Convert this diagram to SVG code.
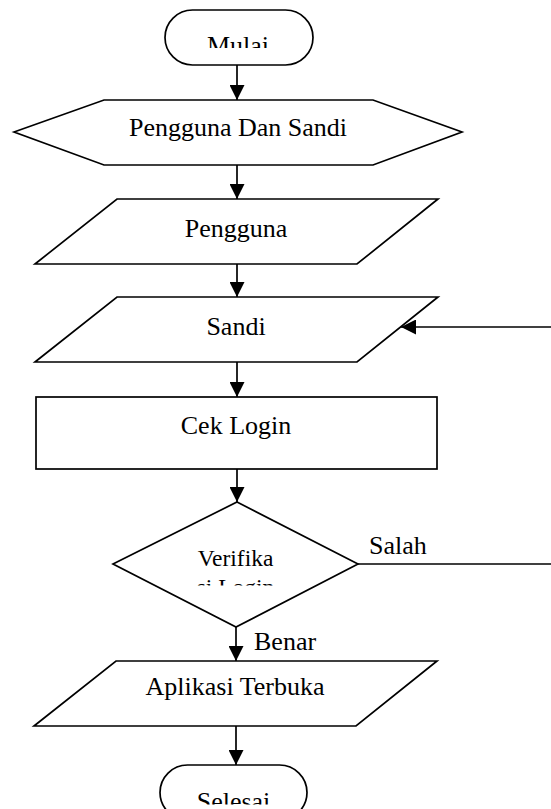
<svg xmlns="http://www.w3.org/2000/svg" width="551" height="809" viewBox="0 0 551 809">
  <style>
    .shape { fill: #ffffff; stroke: #000000; stroke-width: 1.7; stroke-linejoin: miter; }
    .link { fill: none; stroke: #000000; stroke-width: 1.7; }
    .lbl { font-family: "Liberation Serif", "Times New Roman", serif; font-size: 26px; fill: #000000; }
    .mid { text-anchor: middle; }
  </style>
  <defs>
    <marker id="arrow" markerUnits="userSpaceOnUse" markerWidth="15" markerHeight="15" refX="15" refY="7.5" orient="auto">
      <path d="M0,0 L15,7.5 L0,15 z" fill="#000000"/>
    </marker>
    <!-- text boxes narrower than their text: lower lines are cut off -->
    <clipPath id="clipStart"><rect x="165" y="10" width="148" height="38"/></clipPath>
    <clipPath id="clipEnd"><rect x="160" y="765" width="147" height="39.5"/></clipPath>
    <clipPath id="clipVerify"><rect x="150" y="530" width="180" height="55.5"/></clipPath>
  </defs>

  <rect width="551" height="809" fill="#ffffff"/>

  <!-- connectors -->
  <g id="connectors">
    <line class="link" x1="237" y1="65" x2="237" y2="100" marker-end="url(#arrow)"/>
    <line class="link" x1="237" y1="165" x2="237" y2="199" marker-end="url(#arrow)"/>
    <line class="link" x1="237" y1="264" x2="237" y2="297" marker-end="url(#arrow)"/>
    <line class="link" x1="237" y1="362" x2="237" y2="397" marker-end="url(#arrow)"/>
    <line class="link" x1="237" y1="469" x2="237" y2="502" marker-end="url(#arrow)"/>
    <line class="link" x1="236" y1="627" x2="236" y2="661" marker-end="url(#arrow)"/>
    <line class="link" x1="236" y1="726" x2="236" y2="765" marker-end="url(#arrow)"/>
    <!-- "Salah" branch leaves the page to the right and returns to Sandi -->
    <line class="link" x1="358" y1="564" x2="551" y2="564"/>
    <line class="link" x1="551" y1="327" x2="401" y2="327" marker-end="url(#arrow)"/>
    <text class="lbl" x="369" y="554">Salah</text>
    <text class="lbl" x="254" y="650">Benar</text>
  </g>

  <g id="start">
    <rect class="shape" x="165" y="10" width="148" height="55" rx="27.5" ry="27.5"/>
    <text class="lbl mid" x="238" y="54" clip-path="url(#clipStart)">Mulai</text>
  </g>

  <g id="user-and-password">
    <polygon class="shape" points="14,132 104,100 373,100 462,132 373,165 104,165"/>
    <text class="lbl mid" x="238" y="135.5">Pengguna Dan Sandi</text>
  </g>

  <g id="user">
    <polygon class="shape" points="117,199 438,199 357,264 35,264"/>
    <text class="lbl mid" x="236" y="237">Pengguna</text>
  </g>

  <g id="password">
    <polygon class="shape" points="117,297 438,297 357,362 35,362"/>
    <text class="lbl mid" x="236" y="335">Sandi</text>
  </g>

  <g id="check-login">
    <rect class="shape" x="36" y="397" width="401" height="72"/>
    <text class="lbl mid" x="236" y="434">Cek Login</text>
  </g>

  <g id="verify-login">
    <polygon class="shape" points="237,502 358,564 236,627 113,564"/>
    <g clip-path="url(#clipVerify)">
      <text class="lbl mid" x="235.5" y="566" style="font-size:23.5px">Verifika</text>
      <text class="lbl mid" x="235.5" y="594.5" style="font-size:23.5px">si Login</text>
    </g>
  </g>

  <g id="app-open">
    <polygon class="shape" points="116,661 437,661 356,726 34,726"/>
    <text class="lbl mid" x="235" y="695">Aplikasi Terbuka</text>
  </g>

  <g id="finish">
    <rect class="shape" x="160" y="765" width="147" height="55" rx="27.5" ry="27.5"/>
    <text class="lbl mid" x="233.5" y="809.5" clip-path="url(#clipEnd)">Selesai</text>
  </g>
</svg>
